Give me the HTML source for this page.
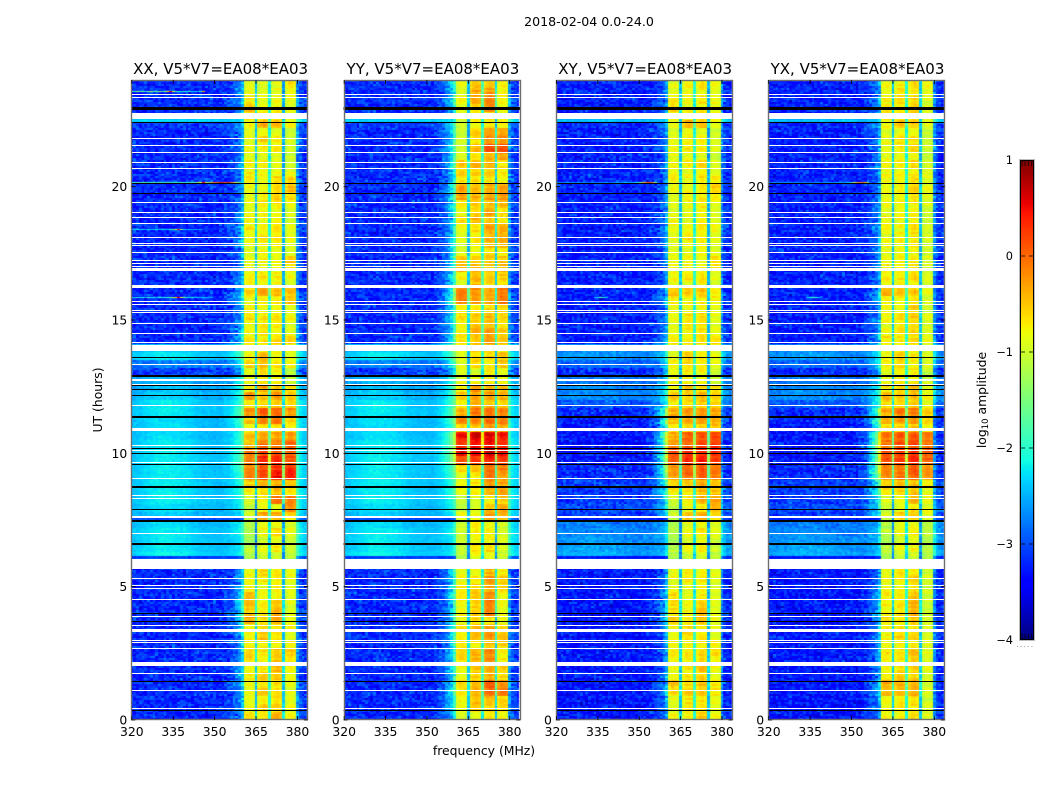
<!DOCTYPE html>
<html lang="en">
<head>
<meta charset="utf-8">
<title>2018-02-04 0.0-24.0 waterfall</title>
<style>
html,body{margin:0;padding:0;background:#fff;}
#figure{position:relative;width:1050px;height:800px;overflow:hidden;background:#fff;}
#figure canvas{position:absolute;display:block;}
#overlay{position:absolute;left:0;top:0;}
text{font-family:"DejaVu Sans","Liberation Sans",sans-serif;fill:#000;}
</style>
</head>
<body>
<div id="figure">
<canvas id="heat0"></canvas>
<canvas id="heat1"></canvas>
<canvas id="heat2"></canvas>
<canvas id="heat3"></canvas>
<canvas id="cbar"></canvas>
<svg id="overlay" width="1050" height="800" viewBox="0 0 1050 800" xmlns="http://www.w3.org/2000/svg">
<text x="589" y="26" font-size="12.6" text-anchor="middle">2018-02-04 0.0-24.0</text>
<text x="484" y="755" font-size="12.4" text-anchor="middle">frequency (MHz)</text>
<text x="102" y="400" font-size="12.4" text-anchor="middle" transform="rotate(-90 102 400)">UT (hours)</text>
<text x="986" y="400" font-size="12.4" text-anchor="middle" transform="rotate(-90 986 400)">log<tspan font-size="8.5" dy="2">10</tspan><tspan dy="-2"> amplitude</tspan></text>
</svg>
</div>
<script>
/* ---------- axis data ---------- */
const panelTitles = ["XX, V5*V7=EA08*EA03","YY, V5*V7=EA08*EA03","XY, V5*V7=EA08*EA03","YX, V5*V7=EA08*EA03"];
const freqTicks = [320,335,350,365,380];
const hourTicks = [0,5,10,15,20];
const colorbarTicks = [1,0,-1,-2,-3,-4];
const colorbarTickLabels = ["1","0","\u22121","\u22122","\u22123","\u22124"];
const colorbarEndTickFractions = [0.14,0.36,0.6,0.84];

/* ---------- spectral structure, one entry per 1 MHz channel (320..383) ---------- */
const channelMHz = [320,321,322,323,324,325,326,327,328,329,330,331,332,333,334,335,336,337,338,339,340,341,342,343,344,345,346,347,348,349,350,351,352,353,354,355,356,357,358,359,360,361,362,363,364,365,366,367,368,369,370,371,372,373,374,375,376,377,378,379,380,381,382,383];
const subBandOf = [-1,-1,-1,-1,-1,-1,-1,-1,-1,-1,-1,-1,-1,-1,-1,-1,-1,-1,-1,-1,-1,-1,-1,-1,-1,-1,-1,-1,-1,-1,-1,-1,-1,-1,-1,-1,-1,-1,-1,-1,-1,0,0,0,0,0,1,1,1,1,1,2,2,2,2,2,3,3,3,3,-1,-1,-1,-1];
const channelGain = [0,0,0,0,0,0,0,0,0,0,0,0,0,0,0,0,0,0,0,0,0,0,0,0,0,0,0,0,0,0,0,0,0,0,0,0,0,0,0,0,0.2,-0.08,0.02,0.03,-0.05,-1.55,-0.12,0.02,0.05,-0.03,-1.3,-0.1,0.02,0.05,-0.03,-1.75,-0.1,0.02,0.02,-0.06,0.55,0.2,0.1,0.05];
const shoulderShape = [0,0,0,0,0,0,0,0,0,0,0,0,0,0,0,0,0,0,0,0,0,0,0,0,0,0,0,0,0,0,0,0,0,0.05,0.1,0.15,0.25,0.4,0.55,0.75,1,0,0,0,0,0,0,0,0,0,0,0,0,0,0,0,0,0,0,0,0,0,0,0];
const brightTilt = [0,0,0.03,0.05,0.08,0.1,0.12,0.15,0.17,0.18,0.2,0.2,0.2,0.2,0.2,0.18,0.18,0.17,0.15,0.15,0.13,0.12,0.08,0.05,0.03,0.02,0,0,0,0,-0.02,-0.03,-0.03,-0.03,-0.02,-0.02,0,0,0,0,0,0,0,0,0,0,0,0,0,0,0,0,0,0,0,0,0,0,0,0,0,0,0,0];

/* ---------- time rows: 80 rows of 0.3 h, listed from 24.0 h downward ---------- */
const topHour = 24;
const rowHours = 0.3;
/* out-of-band log10 amplitude per row */
const oobParallel = [-3.2,-3.2,-3.15,-3.2,-3.2,-3.1,-3.2,-3.2,-3.2,-3.2,-3.2,-3.2,-3.2,-3.2,-3.2,-3.2,-3.2,-3.2,-3.2,-3.2,-3.2,-3.2,-3.2,-3.2,-3.2,-3.2,-3.2,-3.2,-3.2,-3.2,-3.2,-3.2,-3.2,-2.5,-2.4,-2.8,-3.1,-2.6,-2.55,-2.5,-2.4,-2.4,-2.45,-2.45,-2.45,-2.4,-2.4,-2.4,-2.4,-2.4,-2.4,-2.4,-2.4,-2.45,-2.5,-2.45,-2.4,-2.4,-2.4,-2.35,-2.7,-3.2,-3.2,-3.2,-3.2,-3.2,-3.2,-3.2,-3.2,-3.2,-3.2,-3.2,-3.2,-3.2,-3.2,-3.2,-3.2,-3.2,-3.2,-3.2];
const oobCross = [-3.25,-3.25,-3.25,-3.25,-3.25,-3.2,-3.25,-3.25,-3.25,-3.25,-3.25,-3.25,-3.25,-3.25,-3.25,-3.25,-3.25,-3.25,-3.25,-3.25,-3.25,-3.25,-3.25,-3.25,-3.25,-3.25,-3.25,-3.25,-3.25,-3.25,-3.25,-3.25,-3.25,-2.75,-2.7,-2.9,-3.2,-2.85,-2.75,-2.75,-2.95,-3.2,-3.25,-3.3,-3.3,-3.3,-3.3,-3.3,-3.2,-3.2,-3.1,-3.1,-3.1,-3,-3.1,-2.8,-2.75,-2.7,-2.65,-2.6,-2.9,-3.3,-3.3,-3.3,-3.3,-3.3,-3.3,-3.3,-3.3,-3.3,-3.3,-3.3,-3.3,-3.3,-3.3,-3.3,-3.3,-3.3,-3.3,-3.3];
/* leakage next to the band edge, per row */
const xxShoulder = [.5,.6,.5,.6,.8,.6,.5,.4,.5,.5,.6,.5,.6,.5,.5,.5,.5,.6,.6,.6,.6,.5,.5,.6,.6,.6,.8,.9,.6,.6,.7,.8,.8,.8,.6,.6,.7,.5,.6,.5,.5,.7,.6,.5,.5,.5,.6,.7,.6,.4,.4,.4,.3,.3,.2,.3,.3,.2,.2,.2,.2,.6,.7,.8,1,1,1,1,.8,.7,.7,.7,.7,.7,.8,.7,.6,.6,.6,.5];
const yyShoulder = [1.1,1,1.2,1,.9,1,1.2,1.1,1.3,1.2,1.2,1.1,1,1.3,1.4,1.1,1,1,1,1,1,1,1.2,1.2,1.2,1.1,1.6,1.6,1.2,1.1,1.1,1.2,1.2,1,.7,.8,.9,.7,.8,.7,.6,.8,.8,.6,1.1,1,1.2,1.1,.7,.6,.5,.5,.4,.4,.3,.3,.3,.2,.2,.2,.2,1.1,1.1,1.2,1.2,1.1,1.1,1.1,1.2,1.1,1.1,1.1,1.2,1.2,1.1,1.1,1.4,1.1,1,.9];
const xyShoulder = [.5,.5,.5,.5,.6,.5,.5,.4,.5,.5,.5,.5,.5,.5,.5,.5,.5,.5,.5,.5,.5,.5,.5,.5,.5,.5,.7,.7,.5,.5,.5,.6,.6,.6,.5,.5,.7,.5,.6,.6,.8,1.6,1.5,1.2,2,2,2,2.1,1.8,1.7,1.2,1.1,.9,.7,.6,.3,.3,.2,.2,.2,.1,.5,.6,.7,.8,.8,.8,.8,.7,.6,.6,.6,.6,.6,.7,.7,.9,.6,.5,.5];
const yxShoulder = [.6,.5,.6,.5,.6,.5,.5,.5,.5,.5,.6,.5,.5,.5,.5,.5,.5,.5,.6,.5,.5,.5,.5,.6,.5,.5,.8,.8,.5,.5,.6,.6,.6,.6,.5,.6,.7,.6,.7,.7,.9,1.7,1.6,1.4,2.2,2.2,2.2,2.2,2,1.9,1.3,1.2,1,.8,.7,.3,.3,.3,.2,.2,.1,.5,.6,.7,.8,.8,.8,.7,.7,.6,.6,.7,.7,.6,.7,.8,.9,.6,.5,.5];

/* thin out-of-band strips that differ from their surrounding row */
const stripTopHour = [22.54,7.61,6.15];
const stripBottomHour = [22.43,7.46,6.04];
const stripParallelLevel = [-2.3,-3,-3.1];
const stripCrossLevel = [-2.4,-3.2,-3.3];

/* in-band log10 amplitude per row: [sub-band 1, 2, 3, 4] */
const xxBandLevels = [[-.9,-.95,-.9,-.7],[-.85,-.9,-.85,-.8],[-.75,-.9,-.8,-.85],[-.5,-.85,-.75,-.85],[-.6,-.7,-.7,-.8],[-.85,-.4,-.45,-.8],[-.9,-.85,-.85,-1],[-.85,-.6,-.7,-.95],[-.8,-.75,-.75,-.95],[-.85,-.9,-.9,-1],[-.8,-.75,-.85,-1],[-.75,-.8,-.85,-.85],[-.7,-.85,-.6,-.55],[-.85,-.85,-.65,-.45],[-.85,-.7,-.6,-.6],[-.9,-.75,-.7,-.85],[-.9,-.8,-.8,-.95],[-.75,-.9,-.75,-.95],[-.7,-.8,-.7,-.85],[-.8,-.65,-.7,-.85],[-.85,-.75,-.7,-.9],[-.9,-.85,-.85,-.95],[-.85,-.8,-.8,-.5],[-.85,-.85,-.8,-.65],[-.75,-.7,-.75,-.85],[-.75,-.8,-.8,-.95],[-.6,-.35,-.45,-.5],[-.85,-.75,-.7,-.45],[-.75,-.8,-.85,-.85],[-.7,-.7,-.7,-.8],[-.85,-.7,-.65,-.9],[-.8,-.75,-.8,-.85],[-.65,-.7,-.6,-.55],[-.8,-.75,-.8,-.85],[-.85,-.45,-.8,-.9],[-.6,-.45,-.7,-.8],[-.9,-.65,-.75,-1.1],[-.85,-.7,-.8,-1],[-.7,-.35,-.5,-.6],[-.3,-.5,-.3,-.55],[-.7,-.6,-.5,-.6],[-.25,0,0,-.25],[-.5,-.2,-.1,-.6],[-.75,-.6,-.65,-.7],[-.5,-.35,-.3,-.3],[-.45,-.1,-.1,0],[-.05,.15,.1,.05],[-.15,.3,.35,.1],[-.15,.1,.3,.3],[-.15,.15,.45,.4],[-.6,-.45,-.4,-.55],[-.75,-.65,-.45,-.6],[-.95,-.75,-.1,-.1],[-1.1,-.8,-.85,-.2],[-1.05,-.35,-.35,-.65],[-1.2,-.9,-.8,-.9],[-1.15,-.8,-.6,-.85],[-1.25,-1,-.9,-1],[-1.15,-.85,-.7,-1],[-1.2,-1,-1,-1.1],[-1,-.9,-.9,-1],[-.85,-.6,-.7,-.8],[-.8,-.75,-.75,-.85],[-.8,-.85,-.8,-.9],[-.45,-.8,-.75,-.9],[-.5,-.8,-.5,-.9],[-.5,-.75,-.4,-.9],[-.35,-.6,-.35,-.8],[-.75,-.65,-.75,-.8],[-.75,-.5,-.65,-.9],[-.75,-.8,-.75,-.75],[-.6,-.7,-.55,-.55],[-.6,-.75,-.5,-.6],[-.85,-.7,-.45,-.75],[-.75,-.55,-.5,-.85],[-.85,-.7,-.65,-.8],[-.85,-.55,-.7,-.85],[-.85,-.7,-.65,-.85],[-.9,-.6,-.6,-.85],[-.65,-.75,-.35,-.75]];
const yyBandLevels = [[-.85,-.55,-.55,-.75],[-.9,-.4,-.3,-.75],[-.75,-.35,-.15,-.75],[-.9,-.6,-.2,-.85],[-.9,-.7,-.6,-.9],[-1,-.85,-.7,-.8],[-1,-.6,-.3,-.3],[-1,-.7,-.3,-.25],[-1,-.45,.1,.1],[-.95,-.7,-.4,-.3],[-.55,-.45,-.45,-.7],[-.55,-.55,-.6,-.7],[-.7,-.65,-.7,-.75],[-.35,-.45,-.4,-.35],[-.35,-.4,-.35,-.25],[-.7,-.55,-.5,-.45],[-.85,-.6,-.35,-.65],[-.6,-.45,-.55,-.7],[-.85,-.7,-.35,-.45],[-.9,-.75,-.4,-.4],[-.95,-.8,-.5,-.4],[-.9,-.85,-.7,-.75],[-.5,-.5,-.55,-.5],[-.45,-.45,-.55,-.5],[-.75,-.45,-.55,-.55],[-.9,-.5,-.6,-.65],[-.1,-.25,-.35,-.1],[-.1,-.3,-.4,-.1],[-.75,-.7,-.65,-.6],[-.65,-.6,-.45,-.65],[-.75,-.55,-.5,-.65],[-.75,-.45,-.35,-.55],[-.65,-.5,-.3,-.5],[-.8,-.6,-.6,-.7],[-.95,-.7,-.65,-.5],[-.85,-.6,-.75,-.5],[-.9,-.95,-.75,-.85],[-.9,-.8,-.75,-.85],[-.7,-.25,-.4,-.4],[-.55,-.35,-.35,-.4],[-.75,-.35,-.5,-.55],[-.35,-.1,-.1,-.15],[-.2,-.15,-.1,-.2],[-.6,-.55,-.25,-.4],[.45,.55,.55,.45],[.3,.45,.45,.3],[.55,.6,.65,.55],[.1,.25,.35,.2],[-.6,-.45,-.05,-.15],[-.85,-.75,-.1,-.3],[-.75,-.7,-.3,-.35],[-.8,-.75,-.45,-.3],[-1.05,-.95,-.8,-.55],[-1.1,-.95,-.5,-.4],[-.8,-.85,-.3,-.4],[-1,-.8,-.9,-1],[-1,-.7,-.75,-.95],[-1.05,-.85,-.8,-.95],[-1.1,-.7,-.65,-.95],[-1.1,-.85,-.85,-1],[-1.1,-.9,-.8,-1],[-.85,-.8,-.45,-.75],[-.85,-.7,-.25,-.55],[-.75,-.6,-.45,-.6],[-.7,-.5,-.2,-.8],[-.8,-.6,-.2,-.85],[-.8,-.55,-.2,-.9],[-.85,-.65,-.65,-.9],[-.65,-.55,-.35,-.65],[-.7,-.45,-.25,-.45],[-.7,-.75,-.6,-.55],[-.6,-.4,-.2,-.8],[-.65,-.4,-.2,-.75],[-.8,-.55,-.4,-.55],[-.8,-.6,-.45,-.65],[-.6,-.45,.05,-.2],[-.7,-.4,-.05,-.1],[-.8,-.5,-.45,-.6],[-.85,-.55,-.6,-.65],[-.9,-.95,-.7,-.8]];
const xyBandLevels = [[-.85,-.8,-.75,-.8],[-.85,-.75,-.8,-.85],[-.75,-.8,-.7,-.85],[-.6,-.8,-.75,-.85],[-.7,-.75,-.7,-.8],[-.85,-.45,-.5,-.85],[-.9,-.85,-.9,-1],[-.85,-.7,-.75,-.95],[-.8,-.75,-.7,-.95],[-.85,-.9,-.9,-1],[-.8,-.75,-.65,-.9],[-.8,-.8,-.8,-.9],[-.8,-.85,-.7,-.7],[-.85,-.85,-.7,-.55],[-.85,-.75,-.7,-.65],[-.9,-.8,-.75,-.85],[-.9,-.85,-.8,-.95],[-.8,-.9,-.75,-.9],[-.8,-.8,-.7,-.85],[-.85,-.7,-.75,-.85],[-.85,-.8,-.75,-.9],[-.9,-.85,-.85,-.95],[-.85,-.8,-.8,-.65],[-.85,-.85,-.8,-.75],[-.75,-.7,-.75,-.85],[-.8,-.85,-.8,-.95],[-.55,-.5,-.5,-.75],[-.7,-.75,-.7,-.75],[-.8,-.85,-.8,-.85],[-.8,-.7,-.65,-.85],[-.85,-.7,-.7,-.9],[-.85,-.75,-.7,-.85],[-.7,-.75,-.6,-.7],[-.85,-.8,-.8,-.85],[-.9,-.6,-.8,-.85],[-.75,-.55,-.75,-.85],[-.95,-.75,-.8,-1.05],[-.85,-.75,-.8,-1],[-.7,-.5,-.6,-.6],[-.5,-.55,-.45,-.55],[-.7,-.6,-.55,-.6],[-.4,-.25,-.25,-.35],[-.45,-.35,-.3,-.45],[-.7,-.6,-.55,-.5],[-.35,0,.1,.15],[-.25,.05,.15,.2],[.15,.3,.35,.3],[0,.25,.4,.2],[-.2,0,.05,-.05],[-.3,-.05,-.05,-.1],[-.6,-.5,-.4,-.5],[-.75,-.65,-.45,-.5],[-.95,-.75,-.4,-.3],[-1.1,-.85,-.75,-.4],[-1,-.5,-.4,-.6],[-1.2,-.9,-.85,-.95],[-1.15,-.8,-.65,-.9],[-1.25,-1,-.9,-1],[-1.15,-.85,-.75,-1],[-1.2,-1,-1,-1.1],[-1,-.9,-.9,-1],[-.85,-.7,-.75,-.85],[-.85,-.75,-.7,-.85],[-.85,-.85,-.8,-.9],[-.6,-.85,-.75,-.9],[-.65,-.8,-.55,-.9],[-.65,-.8,-.45,-.9],[-.5,-.7,-.45,-.85],[-.8,-.7,-.75,-.85],[-.8,-.6,-.7,-.9],[-.8,-.8,-.75,-.8],[-.75,-.75,-.6,-.65],[-.75,-.75,-.6,-.7],[-.85,-.75,-.55,-.8],[-.8,-.65,-.6,-.85],[-.55,-.6,-.5,-.7],[-.6,-.55,-.55,-.7],[-.85,-.7,-.7,-.85],[-.9,-.7,-.7,-.85],[-.75,-.8,-.55,-.8]];
const yxBandLevels = [[-.85,-.75,-.7,-.85],[-.85,-.7,-.65,-.85],[-.8,-.7,-.6,-.9],[-.65,-.75,-.6,-.9],[-.7,-.7,-.65,-.85],[-.85,-.5,-.55,-.9],[-.9,-.85,-.8,-1.05],[-.85,-.7,-.65,-1],[-.85,-.75,-.6,-1],[-.85,-.85,-.8,-1.05],[-.8,-.75,-.65,-1],[-.8,-.8,-.75,-.95],[-.8,-.8,-.65,-.85],[-.85,-.8,-.6,-.8],[-.85,-.75,-.65,-.85],[-.9,-.8,-.75,-.95],[-.9,-.8,-.75,-1],[-.75,-.85,-.75,-1],[-.75,-.8,-.65,-.95],[-.85,-.75,-.7,-.95],[-.85,-.8,-.7,-1],[-.9,-.85,-.85,-1],[-.8,-.75,-.7,-.9],[-.8,-.8,-.75,-.95],[-.75,-.7,-.65,-.95],[-.85,-.8,-.75,-1],[-.45,-.55,-.5,-.85],[-.7,-.8,-.7,-.9],[-.8,-.8,-.6,-.95],[-.8,-.65,-.55,-.9],[-.85,-.7,-.6,-.95],[-.8,-.7,-.6,-.9],[-.7,-.75,-.6,-.85],[-.85,-.8,-.8,-.95],[-.85,-.6,-.75,-.95],[-.7,-.6,-.75,-.95],[-.9,-.8,-.75,-1.05],[-.85,-.75,-.75,-1],[-.7,-.55,-.45,-.85],[-.5,-.55,-.45,-.8],[-.65,-.6,-.5,-.85],[-.35,-.15,-.1,-.5],[-.4,-.3,-.3,-.6],[-.65,-.6,-.55,-.75],[-.1,.05,.1,-.1],[-.1,.1,.15,-.1],[.15,.2,.3,.1],[.1,.2,.3,.05],[-.15,-.05,.05,-.25],[-.25,-.1,0,-.3],[-.6,-.5,-.45,-.75],[-.7,-.65,-.5,-.8],[-.9,-.8,-.45,-.8],[-1.05,-.85,-.7,-.85],[-1,-.55,-.5,-.85],[-1.15,-.95,-.85,-1.1],[-1.1,-.85,-.7,-1.1],[-1.2,-1,-.9,-1.15],[-1.1,-.85,-.8,-1.15],[-1.2,-1,-1,-1.2],[-1,-.9,-.85,-1.1],[-.85,-.7,-.7,-.95],[-.85,-.75,-.6,-.95],[-.85,-.8,-.7,-1],[-.75,-.7,-.45,-1],[-.75,-.75,-.4,-1],[-.75,-.7,-.4,-1],[-.6,-.65,-.5,-.95],[-.8,-.7,-.65,-.95],[-.8,-.6,-.6,-.95],[-.8,-.8,-.7,-.9],[-.7,-.7,-.5,-.85],[-.75,-.7,-.55,-.9],[-.85,-.7,-.6,-.9],[-.75,-.55,-.55,-.95],[-.4,-.45,-.4,-.9],[-.45,-.45,-.45,-.9],[-.8,-.7,-.65,-.95],[-.85,-.7,-.7,-.95],[-.75,-.8,-.6,-.9]];

/* Cosmetic receiver-noise texture: hand-typed offsets applied on top of the row
   levels; it only reproduces the look of the speckle and carries no read-off values. */
const grainTile = [.6,-.8,.1,.9,-.3,-.7,.4,-.1,.8,-.9,.3,-.5,.7,0,-.6,.9,-.2,.5,-.8,.2,-.4,1,-.7,.3,-.1,.6,-.9,.4,.8,-.3,-.6,.1,.7,-.5,.2,-1,.5,-.2,.9,-.4,.3,-.7,.6,.1,-.8,.4,-.3,.8,-.6,0,.7,-.9,.2,-.1,.5,-.5,.9,-.7,.3,.6,-.2,-.8,.4,.1,-.4,.8,-.6,.2,-.9,.7,-.1,.5,-.3,1,-.7,.1,-.5,.6,.3,-.8,.4,-.2,.9,-.6,0,.7,-.4,.2,-.9,.5,-.1,.8,-.3,.6,-.7,.2,-.5];

/* ---------- interference lines ---------- */
const rfiPanel = [0,0,0,0,2,3,2,3];
const rfiHour = [23.59,20.18,18.4,15.88,20.18,20.18,15.88,15.88];
const rfiFirstChannel = [0,0,0,0,0,0,14,14];
const rfiLevels = [
[-1.5,-2,-1.2,-1.8,-1.4,-2,-1.5,-1.2,-2,-1.6,-1.3,-1.9,-1.4,-.8,.5,-1,-1.6,-2,-2.2,-1.8,-2.3,-2,-2.4,-2.2,-2.5,-1.9,-.4],
[-2,-1.8,-1.6,-1.9,-1.7,-1.6,-2,-1.8,-1.6,-1.9,-1.7,-2,-1.8,-1.6,-1.9,-2,-1.8,-2,-1.7,-1.9,-2,-1.8,-1.9,-1.6,-1.2,-.8,.5,-1,-1.3,-.3,-.1,.1,.4,.35,.1,.4,-.1,-.6,-1,-1.5],
[-2.2,-2.4,-2.1,-2.3,-2.2,-2.5,-2.1,-2.4,-2.3,-2.1,-2.5,-2.2,-2.3,-2.4,-2,-1.6,-1,.4,-1.4,-2.2,-2.4,-2.3,-2.6,-2.4,-2.7,-2.5],
[-2,-2.3,-1.9,-2.2,-2.1,-2.4,-1.8,-2.2,-2,-2.4,-1.9,-2.2,-2.1,-2,-1.6,-1.2,-.6,.5,-.9,-1.6,-2.1,-2.3,-2,-2.4,-2.2,-2.5,-2.3,-2.4,-2.6,-2.5],
[-2.5,-2.7,-2.6,-2.8,-2.4,-2.7,-2.6,-2.8,-2.5,-2.7,-2.6,-2.8,-2.7,-2.6,-2.7,-2.8,-2.6,-2.7,-2.5,-2.8,-2.7,-2.6,-2.5,-2.7,-2.6,-2.3,-2.5,-2.6,-2.4,-2.2,-1.6,-1,-.4,-.1,.1,-.4,-1.4],
[-2.6,-2.7,-2.5,-2.8,-2.6,-2.7,-2.5,-2.8,-2.6,-2.7,-2.6,-2.8,-2.7,-2.6,-2.7,-2.8,-2.6,-2.7,-2.5,-2.8,-2.7,-2.6,-2.5,-2.7,-2.6,-2.4,-2.5,-2.6,-2.4,-2.3,-1.7,-1.1,-.5,-.2,0,-.5,-1.5],
[-2.4,-2.2,-1.8,-2,-2.4],
[-2.4,-2.1,-1.7,-2,-2.3]
];

/* ---------- flagged (white) and bad-data (black) time ranges, shared by all panels ---------- */
const whiteHours = [23.44,23.35,22.66,21.79,21.54,21.3,20.91,20.67,19.4,19.04,18.83,18.6,18.1,17.88,17.79,17.54,17.22,17.13,17,16.91,16.24,15.7,15.6,15.35,15.27,14.88,14.5,14.16,13.95,13.34,12.76,12.6,11.8,10.89,10.3,10.09,9.66,9.06,8.41,8.3,7.61,7,5.94,5.74,5.31,5.04,4.94,4.53,3.9,3.55,3.35,3,2.91,2.7,2.15,2.08,1.75,1.1,.42];
const whiteWidths = [.0375,.0375,.236,.0375,.0375,.0375,.0375,.0375,.0375,.0375,.0375,.0375,.0375,.0375,.0375,.0375,.0375,.0375,.0375,.11,.11,.0375,.0375,.0375,.0375,.0375,.0375,.0375,.225,.0375,.075,.0375,.0375,.11,.0375,.0375,.0375,.0375,.0375,.0375,.075,.0375,.19,.19,.0375,.0375,.0375,.0375,.0375,.0375,.11,.0375,.0375,.0375,.075,.075,.0375,.0375,.0375];
const blackHours = [22.91,22.41,20.13,19.74,13.59,12.91,12.53,12.39,12.18,11.36,10.17,10,9.6,8.75,7.9,7.46,6.61,4,3.7,1.45,.36];
const blackWidths = [.13,.0375,.0375,.0375,.0375,.075,.0375,.0375,.0375,.075,.0375,.0375,.0375,.075,.0375,.075,.075,.0375,.0375,.0375,.0375];

/* ---------- per-panel series bundles ---------- */
const panelLevels = [xxBandLevels,yyBandLevels,xyBandLevels,yxBandLevels];
const panelOob = [oobParallel,oobParallel,oobCross,oobCross];
const panelShoulder = [xxShoulder,yyShoulder,xyShoulder,yxShoulder];
const panelStrip = [stripParallelLevel,stripParallelLevel,stripCrossLevel,stripCrossLevel];
const panelNames = ["xx","yy","xy","yx"];

/* ---------- layout ---------- */
const axesLeft = [131.3,343.6,555.9,768.2];
const axesWidth = 176.6, axesTop = 80, axesBottom = 720;
const freqMin = 319.8, freqMax = 383.8, hourMin = 0, hourMax = 24;
const cbarMin = -4, cbarMax = 1, cbarLeft = 1020, cbarRight = 1034, cbarTop = 160, cbarBottom = 640;
function xOf(p, mhz){ return axesLeft[p] + (mhz - freqMin) / (freqMax - freqMin) * axesWidth; }
function yOf(h){ return axesBottom - (h - hourMin) / (hourMax - hourMin) * (axesBottom - axesTop); }
function cbarY(v){ return cbarBottom - (v - cbarMin) / (cbarMax - cbarMin) * (cbarBottom - cbarTop); }
function ramp(t, pts){
  if (t <= pts[0][0]) return pts[0][1];
  for (let i = 1; i < pts.length; i++) {
    if (t <= pts[i][0]) return pts[i-1][1] + (t - pts[i-1][0]) / (pts[i][0] - pts[i-1][0]) * (pts[i][1] - pts[i-1][1]);
  }
  return pts[pts.length-1][1];
}
const jetR = [[.35,0],[.66,1],[.89,1],[1,.5]];
const jetG = [[.125,0],[.375,1],[.64,1],[.91,0]];
const jetB = [[0,.5],[.11,1],[.34,1],[.65,0]];
function colorOf(level){
  const t = Math.max(0, Math.min(1, (level - cbarMin) / (cbarMax - cbarMin)));
  return "rgb(" + Math.round(255*ramp(t,jetR)) + "," + Math.round(255*ramp(t,jetG)) + "," + Math.round(255*ramp(t,jetB)) + ")";
}
function grain(c, fr, p){
  const n = grainTile.length;
  const a = (c*31 + fr*17 + p*7) % n;
  const b = (c*13 + fr*fr*3 + c*fr + p*23) % n;
  const d = (c*c*5 + fr*41) % n;
  return (grainTile[a] + grainTile[b] + grainTile[d]) * .6;
}
function stripe(sub, fr, p){
  return grainTile[(fr*29 + sub*53 + p*11) % grainTile.length];
}

/* ---------- heatmaps ---------- */
panelLevels.forEach(function(levels, p){
  const cv = document.getElementById("heat" + p);
  const left = Math.round(axesLeft[p]);
  const w = Math.round(axesWidth);
  cv.width = w; cv.height = axesBottom - axesTop;
  cv.style.left = left + "px"; cv.style.top = axesTop + "px";
  cv.style.width = w + "px"; cv.style.height = (axesBottom - axesTop) + "px";
  const g = cv.getContext("2d");
  const subRows = 4;
  levels.forEach(function(row, r){
    for (let fr4 = 0; fr4 < subRows; fr4++) {
      const hTop = topHour - rowHours * (r + fr4 / subRows);
      const hBot = topHour - rowHours * (r + (fr4 + 1) / subRows);
      const y0 = Math.round(yOf(hTop)) - axesTop, y1 = Math.round(yOf(hBot)) - axesTop;
      const fr = r * subRows + fr4;
      channelMHz.forEach(function(mhz, c){
        const x0 = Math.round(xOf(p, mhz - .5)) - left, x1 = Math.round(xOf(p, mhz + .5)) - left;
        let v;
        const sub = subBandOf[c];
        if (sub >= 0) {
          v = row[sub] + channelGain[c] + .08 * grain(c, fr, p) + .1 * stripe(sub, fr, p);
        } else {
          const oob = panelOob[p][r];
          const bright = Math.max(0, (oob + 3) / .6);
          const amp = Math.max(.05, Math.min(.3, (-2.2 - oob) * .3));
          v = oob + channelGain[c] + panelShoulder[p][r] * shoulderShape[c] + bright * brightTilt[c] + amp * grain(c, fr, p);
        }
        g.fillStyle = colorOf(v);
        g.fillRect(x0, y0, x1 - x0, y1 - y0);
      });
    }
  });
  stripTopHour.forEach(function(hTop, k){
    const y0 = Math.round(yOf(hTop)) - axesTop, y1 = Math.round(yOf(stripBottomHour[k])) - axesTop;
    channelMHz.forEach(function(mhz, c){
      if (subBandOf[c] >= 0) return;
      const x0 = Math.round(xOf(p, mhz - .5)) - left, x1 = Math.round(xOf(p, mhz + .5)) - left;
      g.fillStyle = colorOf(panelStrip[p][k] + channelGain[c] + .08 * grain(c, k * 3, p));
      g.fillRect(x0, y0, x1 - x0, y1 - y0);
    });
  });
  rfiHour.forEach(function(h, k){
    if (rfiPanel[k] !== p) return;
    const y = Math.round(yOf(h)) - axesTop;
    rfiLevels[k].forEach(function(v, j){
      const mhz = channelMHz[rfiFirstChannel[k] + j];
      const x0 = Math.round(xOf(p, mhz - .5)) - left, x1 = Math.round(xOf(p, mhz + .5)) - left;
      g.fillStyle = colorOf(v);
      g.fillRect(x0, y, x1 - x0, 1);
    });
  });
});

/* ---------- colorbar gradient ---------- */
(function(){
  const cv = document.getElementById("cbar");
  const h = cbarBottom - cbarTop, w = cbarRight - cbarLeft;
  cv.width = w; cv.height = h;
  cv.style.left = cbarLeft + "px"; cv.style.top = cbarTop + "px";
  cv.style.width = w + "px"; cv.style.height = h + "px";
  const g = cv.getContext("2d");
  for (let y = 0; y < h; y++) {
    g.fillStyle = colorOf(cbarMax - (y + .5) / h * (cbarMax - cbarMin));
    g.fillRect(0, y, w, 1);
  }
})();

/* ---------- overlay ---------- */
const svg = document.getElementById("overlay");
const NS = "http://www.w3.org/2000/svg";
function mk(tag, attrs, txt){
  const e = document.createElementNS(NS, tag);
  for (const k in attrs) e.setAttribute(k, attrs[k]);
  if (txt !== undefined) e.textContent = txt;
  svg.appendChild(e);
  return e;
}
function flagRect(p, h, w, fill){
  const yA = Math.round(yOf(h + w / 2));
  const ht = Math.max(1, Math.round(w * (axesBottom - axesTop) / (hourMax - hourMin)));
  return mk("rect", {x: axesLeft[p], y: yA, width: axesWidth, height: ht, fill: fill, "shape-rendering": "crispEdges"});
}
panelTitles.forEach(function(title, p){
  const nm = panelNames[p];
  const L = axesLeft[p];
  whiteHours.forEach(function(h, i){
    const f = flagRect(p, h, whiteWidths[i], "#fff");
    
    
  });
  blackHours.forEach(function(h, i){
    const f = flagRect(p, h, blackWidths[i], "#000");
    
    
  });
  const frame = mk("rect", {x: Math.round(L) + .5, y: axesTop + .5, width: Math.round(axesWidth) - 1, height: axesBottom - axesTop - 1, fill: "none", stroke: "#6e6e6e", "stroke-width": 1.4});
  
  
  const t = mk("text", {x: L + axesWidth / 2 + 1, y: 74, "font-size": 15, "text-anchor": "middle"}, title);
  
  
  freqTicks.forEach(function(f){
    const x = xOf(p, f);
    const a = mk("line", {x1: x, x2: x, y1: axesBottom, y2: axesBottom - 4, stroke: "#000", "stroke-width": .8});
    
    
    const b = mk("line", {x1: x, x2: x, y1: axesTop, y2: axesTop + 4, stroke: "#000", "stroke-width": .8});
    
    
    const l = mk("text", {x: x, y: 736, "font-size": 12.4, "text-anchor": "middle"}, String(f));
    
    
  });
  hourTicks.forEach(function(h){
    const y = yOf(h);
    const a = mk("line", {x1: L, x2: L + 4, y1: y, y2: y, stroke: "#000", "stroke-width": .8});
    
    
    const b = mk("line", {x1: L + axesWidth, x2: L + axesWidth - 4, y1: y, y2: y, stroke: "#000", "stroke-width": .8});
    
    
    const l = mk("text", {x: L - 4, y: y + 4.5, "font-size": 12.4, "text-anchor": "end"}, String(h));
    
    
  });
});

/* colorbar furniture */
const cbOuter = mk("rect", {x: cbarLeft - .5, y: cbarTop - .5, width: cbarRight - cbarLeft + 1, height: cbarBottom - cbarTop + 1, fill: "none", stroke: "#bdbdbd", "stroke-width": 1});


const cbInner = mk("rect", {x: cbarLeft + .5, y: cbarTop + .5, width: cbarRight - cbarLeft - 1, height: cbarBottom - cbarTop - 1, fill: "none", stroke: "#000", "stroke-width": 1});


colorbarTicks.forEach(function(v, i){
  const y = cbarY(v);
  const lab = mk("text", {x: 1013, y: y + 4, "font-size": 11.4, "text-anchor": "end"}, colorbarTickLabels[i]);
  
  
  if (v !== cbarMin && v !== cbarMax) {
    const a = mk("line", {x1: cbarLeft, x2: cbarLeft + 5, y1: y, y2: y, stroke: "#000", "stroke-width": .8});
    
    
    const b = mk("line", {x1: cbarRight, x2: cbarRight - 5, y1: y, y2: y, stroke: "#000", "stroke-width": .8});
    
    
  }
});
colorbarEndTickFractions.forEach(function(fx){
  const x = cbarLeft + fx * (cbarRight - cbarLeft);
  const a = mk("line", {x1: x, x2: x, y1: cbarTop, y2: cbarTop + 6, stroke: "#000", "stroke-width": .7});
  
  
  const b = mk("line", {x1: x, x2: x, y1: cbarBottom, y2: cbarBottom - 6, stroke: "#000", "stroke-width": .7});
  
  
});
const cbDots = mk("line", {x1: 1017, x2: 1035, y1: 646.5, y2: 646.5, stroke: "#999", "stroke-width": 1, "stroke-dasharray": "1 2.6"});


</script>
</body>
</html>
